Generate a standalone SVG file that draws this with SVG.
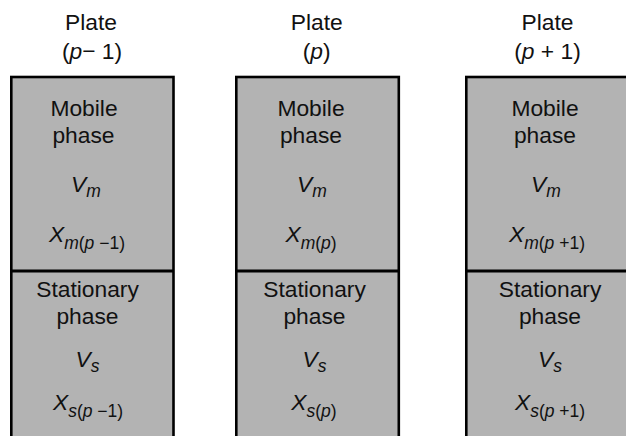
<svg xmlns="http://www.w3.org/2000/svg" width="626" height="436" viewBox="0 0 626 436">
<style>
.box{fill:#b3b3b3;stroke:#000;stroke-width:2.6}
.div{stroke:#000;stroke-width:2.8}
text{font-family:"Liberation Sans",Arial,sans-serif;font-size:22.8px;fill:#111;text-anchor:middle}
.i{font-style:italic}
.sub{font-size:17.5px}
</style>
<rect width="626" height="436" fill="#fff"/>
<g id="plate-p-minus-1">
<rect class="box" x="11.3" y="77" width="162.2" height="380"/>
<line class="div" x1="11.3" y1="271" x2="173.5" y2="271"/>
<text x="91" y="30">Plate</text>
<text x="92" y="59">(<tspan class="i">p</tspan>− 1)</text>
<text x="84" y="116">Mobile</text>
<text x="83.5" y="143">phase</text>
<text x="86" y="192"><tspan class="i">V</tspan><tspan class="i sub" dy="5">m</tspan></text>
<text x="87" y="242"><tspan class="i">X</tspan><tspan class="sub" dy="7"><tspan class="i">m</tspan>(<tspan class="i">p</tspan> −1)</tspan></text>
<text x="87.5" y="297">Stationary</text>
<text x="87.5" y="324">phase</text>
<text x="87.5" y="367"><tspan class="i">V</tspan><tspan class="i sub" dy="5">s</tspan></text>
<text x="88" y="410"><tspan class="i">X</tspan><tspan class="sub" dy="7"><tspan class="i">s</tspan>(<tspan class="i">p</tspan> −1)</tspan></text>
</g>
<g id="plate-p">
<rect class="box" x="236.3" y="77" width="162.5" height="380"/>
<line class="div" x1="236.3" y1="271" x2="398.8" y2="271"/>
<text x="316.7" y="30">Plate</text>
<text x="316.7" y="59">(<tspan class="i">p</tspan>)</text>
<text x="311" y="116">Mobile</text>
<text x="311" y="143">phase</text>
<text x="312" y="192"><tspan class="i">V</tspan><tspan class="i sub" dy="5">m</tspan></text>
<text x="311" y="242"><tspan class="i">X</tspan><tspan class="sub" dy="7"><tspan class="i">m</tspan>(<tspan class="i">p</tspan>)</tspan></text>
<text x="314.5" y="297">Stationary</text>
<text x="314.5" y="324">phase</text>
<text x="314.5" y="367"><tspan class="i">V</tspan><tspan class="i sub" dy="5">s</tspan></text>
<text x="314" y="410"><tspan class="i">X</tspan><tspan class="sub" dy="7"><tspan class="i">s</tspan>(<tspan class="i">p</tspan>)</tspan></text>
</g>
<g id="plate-p-plus-1">
<rect class="box" x="466.3" y="77" width="162.5" height="380"/>
<line class="div" x1="466.3" y1="271" x2="628.8" y2="271"/>
<text x="547.5" y="30">Plate</text>
<text x="547.5" y="59">(<tspan class="i">p</tspan> + 1)</text>
<text x="545" y="116">Mobile</text>
<text x="545" y="143">phase</text>
<text x="546" y="192"><tspan class="i">V</tspan><tspan class="i sub" dy="5">m</tspan></text>
<text x="547" y="242"><tspan class="i">X</tspan><tspan class="sub" dy="7"><tspan class="i">m</tspan>(<tspan class="i">p</tspan> +1)</tspan></text>
<text x="550" y="297">Stationary</text>
<text x="550" y="324">phase</text>
<text x="550" y="367"><tspan class="i">V</tspan><tspan class="i sub" dy="5">s</tspan></text>
<text x="550" y="410"><tspan class="i">X</tspan><tspan class="sub" dy="7"><tspan class="i">s</tspan>(<tspan class="i">p</tspan> +1)</tspan></text>
</g>
<g id="connectors"/>
</svg>
